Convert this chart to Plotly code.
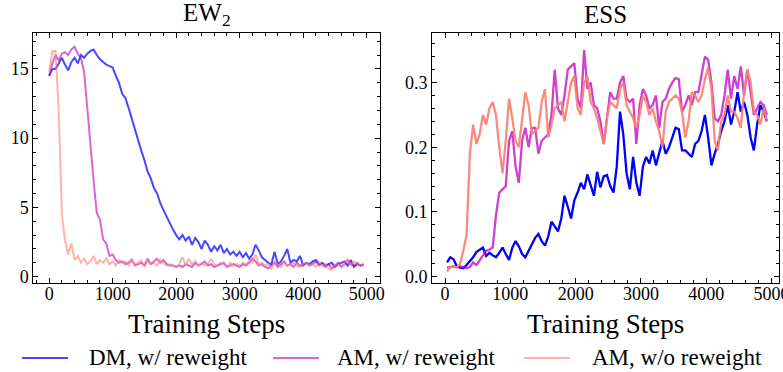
import plotly.graph_objects as go

# ---------------- data ----------------
ew_steps_start, ew_steps_step = 0, 50
ew_dm_rw = [14.5, 15.0, 15.0, 15.4, 15.8, 15.3, 14.9, 15.5, 15.8, 15.4,
            16.0, 15.8, 16.1, 16.3, 16.4, 16.0, 15.7, 15.5, 15.3, 15.2,
            15.1, 14.5, 14.0, 13.2, 12.9, 12.2, 11.4, 10.7, 9.9, 9.1,
            8.4, 7.6, 7.1, 6.4, 6.0, 5.3, 4.8, 4.3, 3.9, 3.4,
            3.0, 2.7, 3.0, 2.6, 2.9, 2.3, 2.8, 2.5, 2.0, 2.6,
            2.3, 1.8, 2.2, 1.9, 2.3, 1.7, 2.0, 1.6, 1.8, 1.5,
            1.8, 1.4, 1.7, 1.3, 1.6, 2.3, 1.9, 1.4, 1.2, 1.0,
            0.9, 1.8, 0.9, 1.1, 1.5, 2.0, 1.0, 1.2, 1.1, 1.5,
            0.8, 1.0, 0.9, 1.1, 1.2, 0.9, 1.0, 0.8, 0.9, 1.0,
            0.7, 0.9, 1.0, 1.1, 0.8, 1.2, 0.7, 0.9, 0.8, 0.9]
ew_am_rw = [14.5, 15.4, 16.0, 15.6, 16.1, 16.2, 16.0, 16.4, 16.6, 16.1,
            15.8, 14.8, 12.2, 9.3, 6.9, 4.6, 4.1, 2.7, 2.4, 1.5,
            1.6, 1.2, 1.0, 1.1, 0.9, 1.0, 1.2, 0.8, 0.9, 1.0,
            0.8, 1.3, 0.9, 1.1, 1.3, 1.0, 1.2, 0.9, 0.8, 0.8,
            0.7, 0.8, 0.7, 0.9, 0.8, 0.7, 1.0, 0.8, 0.9, 1.1,
            0.8, 0.9, 0.7, 0.8, 0.9, 1.0, 0.7, 0.8, 0.9, 0.8,
            0.7, 0.9, 0.8, 1.0, 1.3, 1.1, 0.8, 0.9, 0.7, 0.6,
            0.8, 1.0, 0.7, 0.9, 1.1, 0.8, 0.9, 0.7, 1.0, 0.8,
            0.9, 1.0, 0.8, 0.9, 1.1, 0.8, 0.9, 0.7, 0.9, 0.6,
            0.8, 1.0, 0.7, 0.9, 1.2, 0.9, 0.8, 1.0, 0.8, 0.8]
ew_am_norw = [14.8, 16.3, 16.3, 12.0, 4.5, 2.6, 1.6, 2.4, 1.2, 1.5,
              1.0, 1.3, 0.9, 1.1, 1.5, 0.9, 1.2, 1.0, 1.3, 0.9,
              1.1, 0.8, 1.2, 1.0, 1.1, 0.8, 1.3, 0.9, 1.0, 1.2,
              0.8, 1.1, 0.9, 1.0, 0.8, 1.2, 1.0, 0.8, 0.9, 0.8,
              0.7, 0.9, 1.4, 0.8, 1.3, 0.9, 1.1, 0.8, 1.0, 0.8,
              0.9, 1.3, 0.9, 0.8, 1.0, 0.9, 0.7, 1.0, 0.8, 0.9,
              0.8, 1.0, 0.9, 1.1, 1.0, 1.6, 0.9, 1.0, 0.8, 0.9,
              0.5, 1.1, 0.9, 0.7, 1.0, 0.8, 0.9, 1.0, 0.8, 0.7,
              0.9, 1.0, 0.8, 0.9, 0.7, 1.0, 0.8, 0.9, 0.6, 0.5,
              0.8, 0.9, 0.7, 1.0, 1.2, 0.8, 1.1, 0.9, 0.8, 0.9]

ess_steps_start, ess_steps_step = 30, 50
ess_dm_rw = [0.022, 0.030, 0.027, 0.016, 0.014, 0.013, 0.018, 0.024, 0.030, 0.038,
             0.042, 0.045, 0.032, 0.037, 0.033, 0.030, 0.037, 0.045, 0.035, 0.026,
             0.045, 0.055, 0.047, 0.035, 0.030, 0.040, 0.052, 0.060, 0.066, 0.055,
             0.048, 0.062, 0.085, 0.078, 0.070, 0.090, 0.125, 0.108, 0.090, 0.118,
             0.130, 0.145, 0.135, 0.158, 0.140, 0.125, 0.162, 0.138, 0.155, 0.157,
             0.140, 0.130, 0.170, 0.255, 0.220, 0.160, 0.135, 0.185, 0.145, 0.125,
             0.170, 0.185, 0.175, 0.195, 0.172, 0.190, 0.210, 0.190, 0.200, 0.215,
             0.230, 0.228, 0.195, 0.195, 0.190, 0.185, 0.205, 0.210, 0.225, 0.250,
             0.215, 0.172, 0.190, 0.205, 0.225, 0.240, 0.265, 0.235, 0.255, 0.285,
             0.255, 0.270, 0.250, 0.215, 0.195, 0.235, 0.265, 0.255, 0.240]
ess_am_rw = [0.014, 0.015, 0.016, 0.015, 0.016, 0.015, 0.013, 0.015, 0.022, 0.018,
             0.025, 0.033, 0.040, 0.042, 0.045, 0.095, 0.130, 0.135, 0.140, 0.210,
             0.225, 0.170, 0.145, 0.210, 0.230, 0.200, 0.230, 0.230, 0.190, 0.210,
             0.215, 0.220, 0.250, 0.320, 0.260, 0.250, 0.280, 0.320, 0.325, 0.330,
             0.275, 0.260, 0.350, 0.290, 0.300, 0.265, 0.260, 0.240, 0.205, 0.245,
             0.285, 0.275, 0.275, 0.300, 0.310, 0.275, 0.270, 0.275, 0.205, 0.265,
             0.290, 0.280, 0.260, 0.265, 0.280, 0.230, 0.270, 0.275, 0.290, 0.300,
             0.307, 0.305, 0.255, 0.265, 0.280, 0.265, 0.285, 0.285, 0.315, 0.340,
             0.335, 0.300, 0.245, 0.240, 0.250, 0.280, 0.320, 0.275, 0.310, 0.290,
             0.325, 0.280, 0.320, 0.285, 0.250, 0.260, 0.270, 0.265, 0.250]
ess_am_norw = [0.008, 0.015, 0.016, 0.014, 0.020, 0.040, 0.065, 0.190, 0.235, 0.205,
               0.220, 0.250, 0.235, 0.260, 0.270, 0.250, 0.200, 0.160, 0.210, 0.275,
               0.245, 0.210, 0.200, 0.240, 0.285, 0.265, 0.220, 0.225, 0.230, 0.270,
               0.290, 0.215, 0.235, 0.260, 0.265, 0.270, 0.240, 0.270, 0.300, 0.310,
               0.260, 0.250, 0.300, 0.310, 0.270, 0.260, 0.245, 0.225, 0.205, 0.245,
               0.270, 0.265, 0.260, 0.290, 0.300, 0.265, 0.255, 0.245, 0.230, 0.250,
               0.280, 0.270, 0.250, 0.260, 0.240, 0.225, 0.200, 0.255, 0.270, 0.275,
               0.280, 0.275, 0.255, 0.215, 0.240, 0.285, 0.280, 0.270, 0.280, 0.305,
               0.323, 0.290, 0.210, 0.195, 0.240, 0.250, 0.280, 0.255, 0.255, 0.245,
               0.230, 0.285, 0.320, 0.300, 0.255, 0.250, 0.235, 0.260, 0.240]

series_names = ["DM, w/ reweight", "AM, w/ reweight", "AM, w/o reweight"]
panel_titles = ["EW<sub>2</sub>", "ESS"]
x_label = "Training Steps"
x_tickvals = [0, 1000, 2000, 3000, 4000, 5000]
ew_tickvals = [0, 5, 10, 15]
ess_tickvals = [0.0, 0.1, 0.2, 0.3]

# ---------------- styling ----------------
W, H = 783, 372
FONT = "Liberation Serif"
left_colors = ["rgba(0,0,255,0.72)", "rgba(191,0,191,0.6)", "rgba(250,128,114,0.6)"]
right_colors = ["rgba(0,0,255,1)", "rgba(191,0,191,0.75)", "rgba(250,128,114,0.92)"]

ew_x = [ew_steps_start + ew_steps_step * i for i in range(len(ew_dm_rw))]
ess_x = [ess_steps_start + ess_steps_step * i for i in range(len(ess_dm_rw))]

fig = go.Figure()
for name, ys, c in zip(series_names, [ew_dm_rw, ew_am_rw, ew_am_norw], left_colors):
    fig.add_trace(go.Scatter(x=ew_x, y=ys, mode="lines", name=name,
                             line=dict(color=c, width=2), xaxis="x", yaxis="y",
                             showlegend=False))
for name, ys, c in zip(series_names, [ess_dm_rw, ess_am_rw, ess_am_norw], right_colors):
    fig.add_trace(go.Scatter(x=ess_x, y=ys, mode="lines", name=name,
                             line=dict(color=c, width=2.3), xaxis="x2", yaxis="y2",
                             showlegend=False))

def axis_common():
    return dict(showline=True, linecolor="black", linewidth=1, mirror="ticks",
                ticks="inside", ticklen=5, tickwidth=1, tickcolor="black",
                showgrid=False, zeroline=False, automargin=False,
                tickfont=dict(family=FONT, size=18, color="black"))

left_px = (33.3, 380.0)
right_px = (432.0, 779.0)
ydom = [0.2384, 0.9105]
xa = axis_common(); xa.update(domain=[left_px[0] / W, left_px[1] / W], range=[-250, 5210], tickvals=x_tickvals,
                             anchor="y", ticklabelstandoff=-6, ticklabeloverflow="allow",
                             minor=dict(dtick=200, ticks="inside", ticklen=3, tickcolor="black"))
ya = axis_common(); ya.update(domain=ydom, range=[-0.48, 17.57], tickvals=ew_tickvals, anchor="x",
                             minor=dict(dtick=1, ticks="inside", ticklen=3, tickcolor="black"))
xa2 = axis_common(); xa2.update(domain=[right_px[0] / W, right_px[1] / W], range=[-200, 5115], tickvals=x_tickvals,
                               anchor="y2", ticklabelstandoff=-6, ticklabeloverflow="allow",
                               minor=dict(dtick=200, ticks="inside", ticklen=3, tickcolor="black"))
ya2 = axis_common(); ya2.update(domain=ydom, range=[-0.0102, 0.376], tickvals=ess_tickvals, anchor="x2",
                               tickformat=".1f",
                               minor=dict(dtick=0.02, ticks="inside", ticklen=3, tickcolor="black"))

# legend drawn as line samples + text labels below the panels
legend_line_x = [22, 273, 524]
legend_text_x = [87, 335, 590]
legend_y = 358
shapes = []
annotations = []
for name, c, lx, tx in zip(series_names, left_colors, legend_line_x, legend_text_x):
    shapes.append(dict(type="line", xref="paper", yref="paper",
                       x0=lx / W, x1=(lx + 46) / W, y0=1 - legend_y / H, y1=1 - legend_y / H,
                       line=dict(color=c, width=2)))
    annotations.append(dict(text=name, x=tx / W, y=1 - (legend_y - 1) / H, xref="paper", yref="paper",
                            xanchor="left", yanchor="middle", showarrow=False,
                            font=dict(family=FONT, size=23, color="black")))
for title, (p0, p1) in zip(panel_titles, [left_px, right_px]):
    annotations.append(dict(text=title, x=(p0 + p1) / 2 / W, y=1 - 15 / H, xref="paper",
                            yref="paper", xanchor="center", yanchor="middle", showarrow=False,
                            font=dict(family=FONT, size=25, color="black")))
    annotations.append(dict(text=x_label, x=(p0 + p1) / 2 / W, y=1 - 324 / H, xref="paper",
                            yref="paper", xanchor="center", yanchor="middle", showarrow=False,
                            font=dict(family=FONT, size=27, color="black")))

fig.update_layout(
    template="none",
    width=W, height=H,
    margin=dict(l=0, r=0, t=0, b=0, autoexpand=False),
    paper_bgcolor="white", plot_bgcolor="white",
    xaxis=xa, yaxis=ya, xaxis2=xa2, yaxis2=ya2,
    font=dict(family=FONT, color="black"),
    showlegend=False,
    shapes=shapes,
    annotations=annotations,
)

fig.write_html("out.html", config={"displayModeBar": False},
               post_script="document.body.style.margin='0px';")
